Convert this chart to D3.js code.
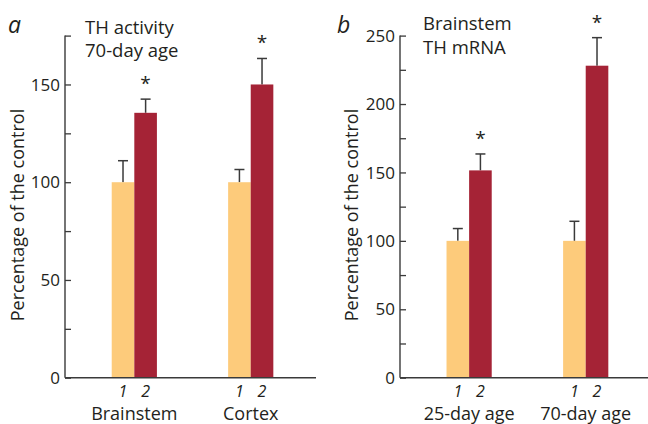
<!DOCTYPE html>
<html><head><meta charset="utf-8">
<script src="https://cdn.jsdelivr.net/npm/d3@7"></script>
<style>body{margin:0;background:#fff}svg{display:block}text{font-family:"Open Sans",sans-serif;fill:#231f20}</style>
</head><body>
<script>
// ---- data ----
const seriesLabels = ["1", "2"];
const colors = ["#FDCB7B", "#A52336"];

const aGroups = ["Brainstem", "Cortex"];
const aControl = [100, 100];
const aControlErr = [11, 6.5];
const aTreated = [135.5, 150];
const aTreatedErr = [7, 13.3];
const aSig = ["*", "*"];
const aTitle = ["TH activity", "70-day age"];
const aTicks = [0, 50, 100, 150];
const aMinor = [25, 75, 125, 175];

const bGroups = ["25-day age", "70-day age"];
const bControl = [100, 100];
const bControlErr = [9, 14.3];
const bTreated = [151.5, 228];
const bTreatedErr = [12, 20.5];
const bSig = ["*", "*"];
const bTitle = ["Brainstem", "TH mRNA"];
const bTicks = [0, 50, 100, 150, 200, 250];
const bMinor = [25, 75, 125, 175, 225];

const yLabel = "Percentage of the control";

const W = 648, H = 424;
const svg = d3.select("body").append("svg").attr("width", W).attr("height", H);

function panel(cfg) {
  const g = svg.append("g");
  const y = d3.scaleLinear().domain([0, cfg.ymax]).range([377.7, 35.6]);
  const xg = d3.scalePoint().domain(cfg.groups).range([cfg.x0, cfg.x1]).padding(cfg.pad).align(cfg.align);
  const xs = d3.scaleBand().domain(seriesLabels).range([-22.6, 22.6]);
  const bw = xs.bandwidth();

  // bars
  const rows = cfg.groups.map((grp, i) => ({
    grp,
    vals: [
      { s: seriesLabels[0], v: cfg.control[i], e: cfg.controlErr[i], sig: null },
      { s: seriesLabels[1], v: cfg.treated[i], e: cfg.treatedErr[i], sig: cfg.sig[i] }
    ]
  }));
  rows.forEach(r => {
    r.vals.forEach((d, j) => {
      const cx = xg(r.grp) + xs(d.s) + bw / 2;
      // error bar
      g.append("line").attr("x1", cx).attr("x2", cx).attr("y1", y(d.v)).attr("y2", y(d.v + d.e))
        .attr("stroke", "#3a3a3a").attr("stroke-width", 1.5);
      g.append("line").attr("x1", cx - 5).attr("x2", cx + 5).attr("y1", y(d.v + d.e)).attr("y2", y(d.v + d.e))
        .attr("stroke", "#3a3a3a").attr("stroke-width", 1.5);
      g.append("rect").attr("x", xg(r.grp) + xs(d.s)).attr("width", bw)
        .attr("y", y(d.v)).attr("height", y(0) - y(d.v)).attr("fill", colors[j]);
      if (d.sig) {
        g.append("text").attr("x", cx).attr("y", y(d.v + d.e) - 9).attr("text-anchor", "middle")
          .attr("font-size", 19).text(d.sig);
      }
      g.append("text").attr("x", cx).attr("y", 397).attr("text-anchor", "middle")
        .attr("font-size", 16).attr("font-style", "italic").text(d.s);
    });
    g.append("text").attr("x", xg(r.grp)).attr("y", 420).attr("text-anchor", "middle")
      .attr("font-size", 18).text(r.grp);
  });

  // y axis
  const ax = g.append("g").attr("transform", `translate(${cfg.x0},0)`)
    .call(d3.axisRight(y).tickValues(cfg.ticks.concat(cfg.minor)).tickSize(6).tickFormat(""));
  ax.select(".domain").remove();
  ax.selectAll(".tick line").attr("stroke", "#3a3a3a").attr("stroke-width", 1.3);
  g.append("line").attr("x1", cfg.x0).attr("x2", cfg.x0).attr("y1", y(cfg.ymax)).attr("y2", y(0))
    .attr("stroke", "#3a3a3a").attr("stroke-width", 1.4);
  cfg.ticks.forEach(t => {
    g.append("text").attr("x", cfg.x0 - 5).attr("y", y(t)).attr("dy", "0.36em")
      .attr("text-anchor", "end").attr("font-size", 17).text(t);
  });
  // x axis
  g.append("line").attr("x1", cfg.x0).attr("x2", cfg.xend).attr("y1", y(0)).attr("y2", y(0))
    .attr("stroke", "#3a3a3a").attr("stroke-width", 1.4);

  // y label
  g.append("text").attr("transform", `translate(${cfg.ylx},${cfg.yly}) rotate(-90)`)
    .attr("text-anchor", "middle").attr("font-size", 18).text(yLabel);

  // panel letter and title
  g.append("text").attr("x", cfg.lx).attr("y", 33).attr("font-size", 23).attr("font-style", "italic").text(cfg.letter);
  cfg.title.forEach((t, i) => {
    g.append("text").attr("x", cfg.tx).attr("y", cfg.ty + i * 23.5).attr("font-size", 18.5).text(t);
  });
}

panel({ groups: aGroups, control: aControl, controlErr: aControlErr, treated: aTreated, treatedErr: aTreatedErr,
  sig: aSig, ymax: 175, ticks: aTicks, minor: aMinor, x0: 65, x1: 316, xend: 316, pad: 0.578, align: 0.515,
  ylx: 24, yly: 215, lx: 8, letter: "a", title: aTitle, tx: 85, ty: 33.5 });

panel({ groups: bGroups, control: bControl, controlErr: bControlErr, treated: bTreated, treatedErr: bTreatedErr,
  sig: bSig, ymax: 250, ticks: bTicks, minor: bMinor, x0: 400, x1: 648, xend: 648, pad: 0.5635, align: 0.526,
  ylx: 358, yly: 215, lx: 337, letter: "b", title: bTitle, tx: 423, ty: 30 });
</script>
</body></html>
